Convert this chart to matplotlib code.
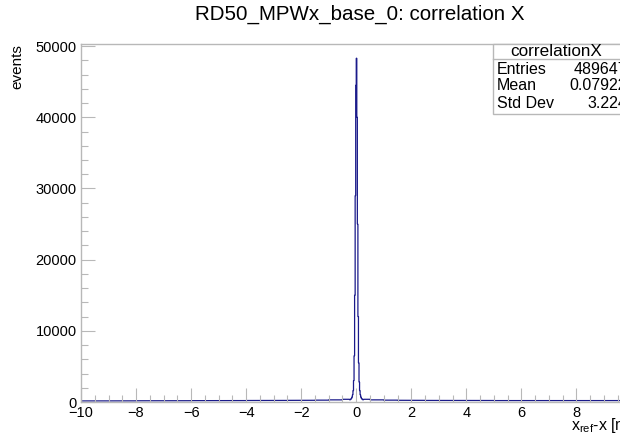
import matplotlib
matplotlib.use("Agg")
import matplotlib.pyplot as plt
import numpy as np
from matplotlib.ticker import MultipleLocator

plt.rcParams["font.family"] = ["Liberation Sans", "DejaVu Sans"]

# ── data ──────────────────────────────────────────────────────────────────────
x_lo, x_hi, n_bins = -10.0, 10.0, 1000

# flat background level, one value per 0.5 mm slice
bg_levels = [150, 150, 160, 160, 170, 170, 180, 180, 190, 190,
             200, 200, 210, 210, 220, 230, 240, 260, 300, 380,
             380, 300, 260, 240, 230, 220, 220, 210, 210, 210,
             200, 200, 200, 200, 200, 200, 200, 200, 200, 200]

# bins around the peak: offset from the bin starting at 0, and counts
peak_offsets = list(range(-12, 13))
peak_counts = [300, 350, 420, 520, 700, 1000, 1600, 3000, 6500, 15000,
               29000, 44500, 48300, 40000, 25000, 12000, 5500, 2800, 1600, 1000,
               700, 520, 420, 350, 300]

stats_rows = [("Entries", "489647"), ("Mean", "0.07922"), ("Std Dev", "3.224")]

# ── build histogram ──────────────────────────────────────────────────────────
edges = np.linspace(x_lo, x_hi, n_bins + 1)
counts = np.repeat(np.array(bg_levels, dtype=float), n_bins // len(bg_levels))
zero_bin = n_bins // 2
for off, c in zip(peak_offsets, peak_counts):
    counts[zero_bin + off] = c

# ── figure ───────────────────────────────────────────────────────────────────
fig = plt.figure(figsize=(6.2, 4.37), dpi=100)
ax = fig.add_axes([81 / 620, 1 - 402 / 437, (631.5 - 81) / 620, (402 - 44) / 437])

ax.stairs(counts, edges, color="#1a1a8a", linewidth=0.9)

ax.set_xlim(x_lo, x_hi)
ax.set_ylim(0, 50300)

frame_col = "#b8b8b8"
for s in ax.spines.values():
    s.set_color(frame_col)
    s.set_linewidth(1.0)

ax.xaxis.set_major_locator(MultipleLocator(2))
ax.xaxis.set_minor_locator(MultipleLocator(0.5))
ax.yaxis.set_major_locator(MultipleLocator(10000))
ax.yaxis.set_minor_locator(MultipleLocator(2000))
ax.tick_params(which="both", direction="in", colors=frame_col,
               labelcolor="black", labelsize=10.5, top=False, right=False)
ax.tick_params(which="major", length=10, width=0.8, pad=3)
ax.tick_params(which="minor", length=5, width=0.8)
ax.set_xticklabels([f"{v:g}".replace("-", "\u2212") for v in ax.get_xticks()])

fig.text(360 / 620, 1 - 14 / 437, "RD50_MPWx_base_0: correlation X",
         ha="center", va="center", fontsize=14.8)
fig.text(17 / 620, 1 - 44 / 437, "events", rotation=90,
         ha="center", va="top", fontsize=11)
fig.text(647 / 620, 1 - 430 / 437, r"x$_{\mathregular{ref}}$-x [mm]",
         ha="right", va="baseline", fontsize=11.5)

# ── stats box ────────────────────────────────────────────────────────────────
box_l, box_t, box_r, box_b = 493, 44, 640, 114
fig.patches.append(plt.Rectangle((box_l / 620, 1 - box_b / 437),
                                 (box_r - box_l) / 620, (box_b - box_t) / 437,
                                 transform=fig.transFigure, facecolor="white",
                                 edgecolor=frame_col, linewidth=1.0, zorder=5))
fig.add_artist(plt.Line2D([box_l / 620, box_r / 620], [1 - 59 / 437] * 2,
                          transform=fig.transFigure, color=frame_col,
                          linewidth=1.0, zorder=6))
fig.text(556 / 620, 1 - 51 / 437, "correlationX", ha="center", va="center",
         fontsize=12.3, zorder=7)
for i, (name, val) in enumerate(stats_rows):
    yy = 1 - (69 + i * 17) / 437
    fig.text(497 / 620, yy, name, ha="left", va="center", fontsize=11.5, zorder=7)
    fig.text(627 / 620, yy, val, ha="right", va="center", fontsize=11.5, zorder=7)

fig.savefig("out.png", dpi=100)
